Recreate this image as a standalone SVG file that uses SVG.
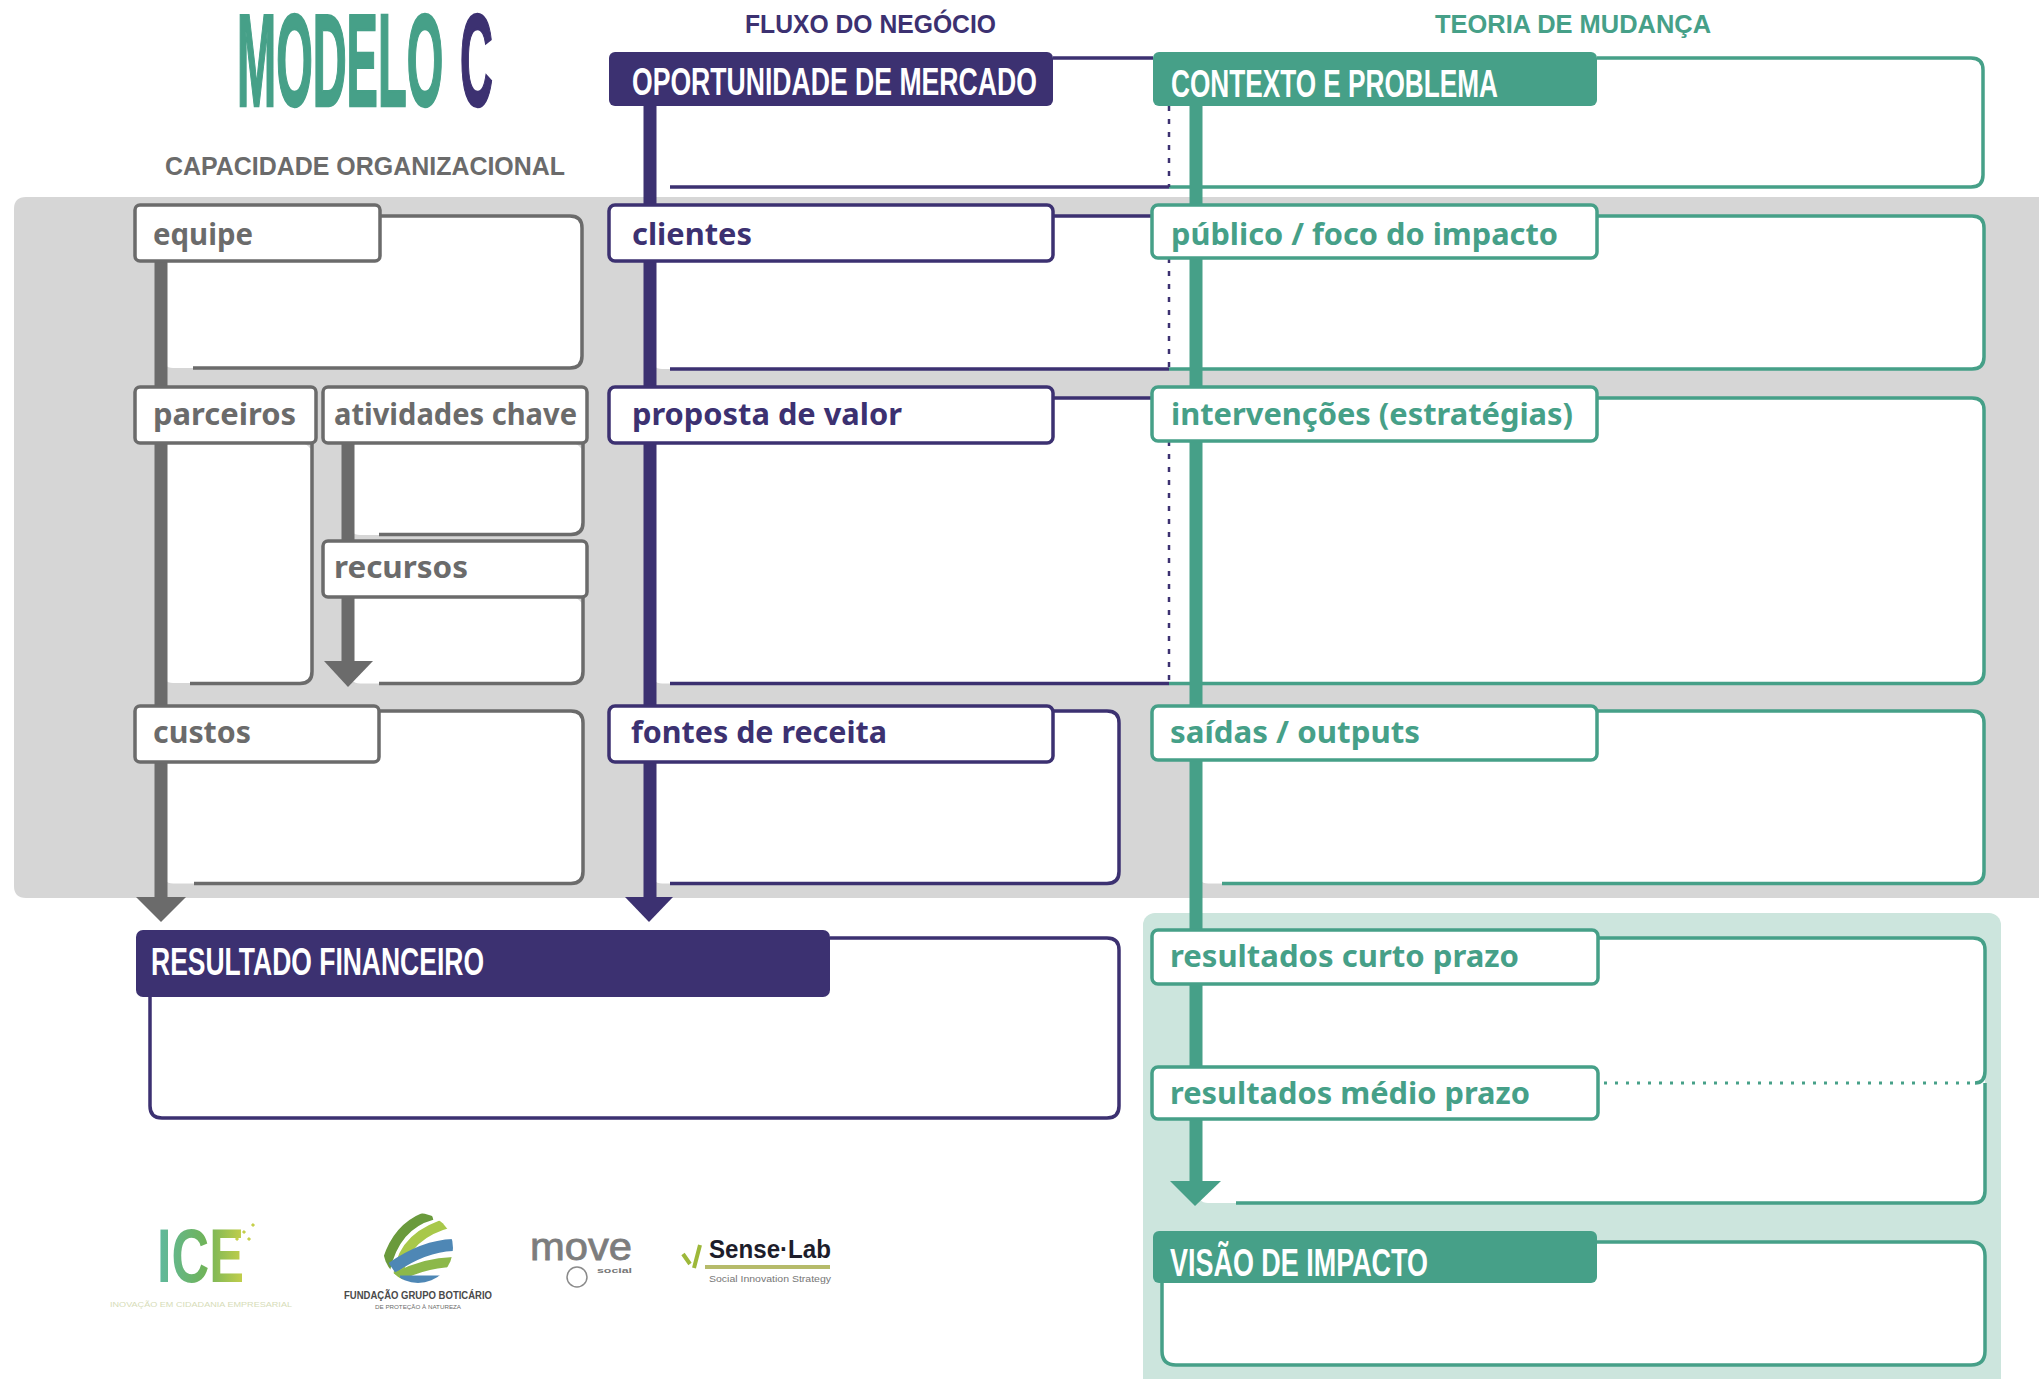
<svg xmlns="http://www.w3.org/2000/svg" width="2039" height="1379" viewBox="0 0 2039 1379">
<style>
.w{fill:#fff}
.o{fill:none;stroke-width:3.5;stroke-linecap:butt}
.g{stroke:#6b6b6b}.p{stroke:#3c3171}.v{stroke:#46a088}
.line{fill:none;stroke-width:13}
.tag{fill:#fff;stroke-width:3.5}
.lbl{font-family:"Noto Sans","Liberation Sans",sans-serif;font-weight:700;font-size:31px}
.cap{font-family:"Liberation Sans Narrow","Liberation Sans",sans-serif;font-weight:700;font-size:39px;fill:#fff}
.cap2{font-family:"Liberation Sans",sans-serif;font-weight:700;font-size:39px;fill:#fff}
.hd{font-family:"Liberation Sans","Noto Sans",sans-serif;font-weight:700;font-size:26px}
.ttl{font-family:"Liberation Sans",sans-serif;font-weight:700;font-size:132px;stroke-width:2.500}
.tg{fill:#6b6b6b}.tp{fill:#3c3171}.tv{fill:#46a088}
.logo{font-family:"Liberation Sans",sans-serif}
</style>
<defs>
<linearGradient id="ice" x1="0" x2="1" y1="0" y2="0"><stop offset="0" stop-color="#5fb9a0"/><stop offset="0.55" stop-color="#6fb35a"/><stop offset="1" stop-color="#c5cf4a"/></linearGradient>
<clipPath id="globe"><circle cx="418" cy="1248" r="35"/></clipPath>
</defs>

<g id="panels">
<path d="M2039 197H26Q14 197 14 209V886Q14 898 26 898H2039Z" fill="#d6d6d6"/>
<rect x="1143" y="913" width="858" height="480" rx="12" fill="#cce5dd"/>
</g>

<g id="titles">
<text transform="translate(237 106) scale(0.356 1)" class="ttl tv v">MODELO</text>
<text transform="translate(460 106) scale(0.345 1)" class="ttl tp p">C</text>
<text x="745" y="33" class="hd tp" textLength="251" lengthAdjust="spacingAndGlyphs">FLUXO DO NEGÓCIO</text>
<text x="165" y="175" class="hd tg" textLength="400" lengthAdjust="spacingAndGlyphs">CAPACIDADE ORGANIZACIONAL</text>
<text x="1435" y="33" class="hd tv" textLength="276" lengthAdjust="spacingAndGlyphs">TEORIA DE MUDANÇA</text>
</g>

<g id="areas">
<rect class="w" x="161" y="216" width="421" height="152" rx="12"/>
<path class="o g" d="M193 368H570Q582 368 582 356V228Q582 216 570 216H380"/>
<rect class="w" x="161" y="443" width="151" height="240" rx="12"/>
<path class="o g" d="M190 683.500H300Q312 683.500 312 671.500V443"/>
<rect class="w" x="348" y="443" width="235" height="92" rx="12"/>
<path class="o g" d="M379 534.500H571Q583 534.500 583 522.500V443"/>
<rect class="w" x="348" y="597" width="235" height="86.500" rx="12"/>
<path class="o g" d="M379 683.500H571Q583 683.500 583 671.500V597"/>
<rect class="w" x="161" y="711" width="422" height="172.500" rx="12"/>
<path class="o g" d="M194 883.500H571Q583 883.500 583 871.500V723Q583 711 571 711H379"/>

<rect class="w" x="650" y="58" width="1333" height="129" rx="12"/>
<path class="o p" d="M1053 58H1153M670 187H1169"/>
<path class="o v" d="M1169 187H1971Q1983 187 1983 175V70Q1983 58 1971 58H1597"/>
<rect class="w" x="650" y="216" width="1334" height="153" rx="12"/>
<path class="o p" d="M1053 216H1153M670 369H1169"/>
<path class="o v" d="M1169 369H1972Q1984 369 1984 357V228Q1984 216 1972 216H1597"/>
<rect class="w" x="650" y="398" width="1334" height="285.500" rx="12"/>
<path class="o p" d="M1053 398H1153M670 683.500H1169"/>
<path class="o v" d="M1169 683.500H1972Q1984 683.500 1984 671.500V410Q1984 398 1972 398H1597"/>
<rect class="w" x="650" y="711" width="469" height="172.500" rx="12"/>
<path class="o p" d="M670 883.500H1107Q1119 883.500 1119 871.500V723Q1119 711 1107 711H1053"/>
<rect class="w" x="1196" y="711" width="788" height="172.500" rx="12"/>
<path class="o v" d="M1222 883.500H1972Q1984 883.500 1984 871.500V723Q1984 711 1972 711H1597"/>

<rect class="w" x="150" y="938" width="969" height="180" rx="12"/>
<path class="o p" d="M830 938H1107Q1119 938 1119 950V1106Q1119 1118 1107 1118H162Q150 1118 150 1106V997"/>

<rect class="w" x="1196" y="938" width="789" height="265" rx="12"/>
<path class="o v" d="M1598 938H1973Q1985 938 1985 950V1071Q1985 1083 1975 1083"/>
<path class="o v" d="M1985 1083V1191Q1985 1203 1973 1203H1236"/>
<path d="M1604 1083H1976" fill="none" stroke="#46a088" stroke-width="3" stroke-dasharray="3 8"/>
<rect class="w" x="1162" y="1242" width="823" height="123" rx="14"/>
<path class="o v" d="M1597 1242H1971Q1985 1242 1985 1256V1351Q1985 1365 1971 1365H1176Q1162 1365 1162 1351V1283"/>
</g>

<g id="connectors">
<path class="line g" d="M161 261V900"/><path d="M136 897H186L161 922Z" fill="#6b6b6b"/>
<path class="line g" d="M348 443V663"/><path d="M324 661H373L348 687Z" fill="#6b6b6b"/>
<path class="line p" d="M650 106V900"/><path d="M625 897H673L649 922Z" fill="#3c3171"/>
<path class="line v" d="M1196 106V1183"/><path d="M1170 1181H1221L1195 1206Z" fill="#46a088"/>
<path d="M1169 106V187M1169 258V369M1169 441V683" fill="none" stroke="#3c3171" stroke-width="2.500" stroke-dasharray="5 8"/>
</g>

<g id="node-equipe"><rect class="tag g" x="135" y="205" width="245" height="56" rx="5"/><text class="lbl tg" x="153" y="245" textLength="100" lengthAdjust="spacingAndGlyphs">equipe</text></g>
<g id="node-parceiros"><rect class="tag g" x="135" y="387" width="181" height="56" rx="5"/><text class="lbl tg" x="153" y="425" textLength="143" lengthAdjust="spacingAndGlyphs">parceiros</text></g>
<g id="node-atividades"><rect class="tag g" x="323" y="387" width="264" height="56" rx="5"/><text class="lbl tg" x="334" y="425" textLength="243" lengthAdjust="spacingAndGlyphs">atividades chave</text></g>
<g id="node-recursos"><rect class="tag g" x="323" y="541" width="264" height="56" rx="5"/><text class="lbl tg" x="334" y="578" textLength="134" lengthAdjust="spacingAndGlyphs">recursos</text></g>
<g id="node-custos"><rect class="tag g" x="135" y="706" width="244" height="56" rx="5"/><text class="lbl tg" x="153" y="743" textLength="98" lengthAdjust="spacingAndGlyphs">custos</text></g>

<g id="node-oportunidade"><rect x="609" y="52" width="444" height="54" rx="6" fill="#3c3171"/><text class="cap2" transform="translate(632 95) scale(0.682 1)">OPORTUNIDADE DE MERCADO</text></g>
<g id="node-clientes"><rect class="tag p" x="609" y="205" width="444" height="56" rx="6"/><text class="lbl tp" x="632" y="245" textLength="120" lengthAdjust="spacingAndGlyphs">clientes</text></g>
<g id="node-proposta"><rect class="tag p" x="609" y="387" width="444" height="56" rx="6"/><text class="lbl tp" x="632" y="425" textLength="270" lengthAdjust="spacingAndGlyphs">proposta de valor</text></g>
<g id="node-fontes"><rect class="tag p" x="609" y="706" width="444" height="56" rx="6"/><text class="lbl tp" x="631" y="743" textLength="256" lengthAdjust="spacingAndGlyphs">fontes de receita</text></g>
<g id="node-resultado"><rect x="136" y="930" width="694" height="67" rx="7" fill="#3c3171"/><text class="cap" x="151" y="975" font-size="41" textLength="333" lengthAdjust="spacingAndGlyphs">RESULTADO FINANCEIRO</text></g>

<g id="node-contexto"><rect x="1153" y="52" width="444" height="54" rx="6" fill="#46a088"/><text class="cap" x="1171" y="97" textLength="327" lengthAdjust="spacingAndGlyphs">CONTEXTO E PROBLEMA</text></g>
<g id="node-publico"><rect class="tag v" x="1152" y="205" width="445" height="53" rx="6"/><text class="lbl tv" x="1171" y="245" textLength="387" lengthAdjust="spacingAndGlyphs">público / foco do impacto</text></g>
<g id="node-intervencoes"><rect class="tag v" x="1152" y="387" width="445" height="54" rx="6"/><text class="lbl tv" x="1171" y="425" textLength="402" lengthAdjust="spacingAndGlyphs">intervenções (estratégias)</text></g>
<g id="node-saidas"><rect class="tag v" x="1152" y="706" width="445" height="54" rx="6"/><text class="lbl tv" x="1170" y="743" textLength="250" lengthAdjust="spacingAndGlyphs">saídas / outputs</text></g>
<g id="node-curto"><rect class="tag v" x="1152" y="930" width="446" height="54" rx="6"/><text class="lbl tv" x="1170" y="967" textLength="349" lengthAdjust="spacingAndGlyphs">resultados curto prazo</text></g>
<g id="node-medio"><rect class="tag v" x="1152" y="1067" width="446" height="52" rx="6"/><text class="lbl tv" x="1170" y="1104" textLength="360" lengthAdjust="spacingAndGlyphs">resultados médio prazo</text></g>
<g id="node-visao"><rect x="1153" y="1231" width="444" height="52" rx="6" fill="#46a088"/><text class="cap" x="1170" y="1276" font-size="41" textLength="258" lengthAdjust="spacingAndGlyphs">VISÃO DE IMPACTO</text></g>

<g id="logos">
<g id="logo-ice"><text class="logo" x="157" y="1282" font-size="76" font-weight="700" fill="url(#ice)" textLength="87" lengthAdjust="spacingAndGlyphs">ICE</text>
<path d="M236 1240l2-2M243 1233l2-2M248 1240l2-2M252 1226l2-2" stroke="#c5cf4a" stroke-width="3" fill="none"/>
<text class="logo" x="110" y="1307" font-size="8" fill="#d6dcb8" textLength="182" lengthAdjust="spacingAndGlyphs">INOVAÇÃO EM CIDADANIA EMPRESARIAL</text></g>
<g id="logo-fgb"><g clip-path="url(#globe)" fill="none" stroke-width="10">
<path d="M385 1270Q395 1225 432 1215" stroke="#6a9a3c"/>
<path d="M398 1280Q400 1235 452 1222" stroke="#a8c84a"/>
<path d="M392 1268Q425 1245 456 1245" stroke="#4e87b5" stroke-width="12"/>
<path d="M395 1278Q425 1262 456 1262" stroke="#8cb84a"/>
<path d="M400 1280H456" stroke="#4e87b5" stroke-width="9"/></g>
<text class="logo" x="344" y="1299" font-size="10" font-weight="700" fill="#4a4a4a" textLength="148" lengthAdjust="spacingAndGlyphs">FUNDAÇÃO GRUPO BOTICÁRIO</text>
<text class="logo" x="375" y="1309" font-size="6" fill="#6b6b6b" textLength="86" lengthAdjust="spacingAndGlyphs">DE PROTEÇÃO À NATUREZA</text></g>
<g id="logo-move"><text class="logo" x="530" y="1260" font-size="38" fill="#7d7d7d" stroke="#7d7d7d" stroke-width="0.800" textLength="102" lengthAdjust="spacingAndGlyphs">move</text>
<text class="logo" x="597" y="1273" font-size="7" font-weight="700" fill="#777" textLength="35" lengthAdjust="spacingAndGlyphs">social</text>
<circle cx="577" cy="1277" r="10" fill="#fff" stroke="#8a8a8a" stroke-width="1.500"/></g>
<g id="logo-senselab"><text class="logo" x="709" y="1258" font-size="25" font-weight="700" fill="#1d1d2b" textLength="122" lengthAdjust="spacingAndGlyphs">Sense·Lab</text>
<path d="M705 1267H830" stroke="#b6bb6b" stroke-width="4"/>
<text class="logo" x="709" y="1282" font-size="9" fill="#777" textLength="122" lengthAdjust="spacingAndGlyphs">Social Innovation Strategy</text>
<path d="M683 1254L690 1264M700 1245L694 1268" stroke="#9db83a" stroke-width="4" fill="none"/></g>
</g>
</svg>
